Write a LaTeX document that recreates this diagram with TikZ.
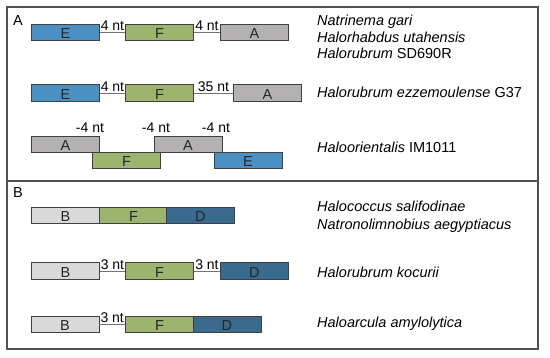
\documentclass[tikz,border=0pt]{standalone}
\usepackage{fontspec}
\setmainfont{Liberation Sans}
\usetikzlibrary{calc}
\definecolor{colE}{HTML}{4A90C2}
\definecolor{colF}{HTML}{9DB46F}
\definecolor{colA}{HTML}{B3B1B1}
\definecolor{colB}{HTML}{D9D9D9}
\definecolor{colD}{HTML}{3A6B8F}
\definecolor{frameGray}{HTML}{505050}
\newcommand{\bigfont}{\fontsize{14.5}{16}\selectfont}
\newcommand{\ntfont}{\fontsize{14}{15}\selectfont}
\tikzset{
  gene/.style={draw=black!75,line width=0.9pt,minimum width=68pt,minimum height=16.3pt,inner sep=0pt,
    anchor=north west,text height=12pt,text depth=0pt,font=\bigfont,text=black!85},
  gap/.style={draw=black!55,line width=0.9pt},
  nt/.style={anchor=south,inner sep=1.5pt,font=\ntfont},
  species/.style={anchor=base west,inner sep=0pt,font=\bigfont},
  frame/.style={draw=frameGray,line width=1.1pt}
}

\begin{document}
\begin{tikzpicture}[x=1pt,y=-1pt]
\useasboundingbox (0,0) rectangle (550,358);
\draw[frame] (7,7) rectangle (538,349);
\draw[frame] (7,181) -- (538,181);
\node[font=\bigfont] (pA) at (18,21) {A};
\node[font=\bigfont] (pB) at (18,193) {B};
% panel A
\node[gene,fill=colE] (e1) at (31,23.7) {E};
\node[gene,fill=colF] (f1) at (125,23.7) {F};
\node[gene,fill=colA] (a1) at (220,23.7) {A};
\draw[gap] (e1) -- node[nt]{4 nt} (f1);
\draw[gap] (f1) -- node[nt]{4 nt} (a1);
\node[gene,fill=colE] (e2) at (31,84.5) {E};
\node[gene,fill=colF] (f2) at (125,84.5) {F};
\node[gene,fill=colA] (a2) at (233,84.5) {A};
\draw[gap] (e2) -- node[nt]{4 nt} (f2);
\draw[gap] (f2) -- node[nt]{35 nt} (a2);
\node[gene,fill=colA] (a3) at (31,136) {A};
\node[gene,fill=colF] (f3) at (92,152.2) {F};
\node[gene,fill=colA] (a4) at (153.5,136) {A};
\node[gene,fill=colE] (e3) at (213.5,152.2) {E};
\foreach \n/\x in {m1/90,m2/156,m3/216}{\node[nt] (\n) at (\x,134.5) {-4 nt};}
% panel B
\node[gene,fill=colB] (b1) at (31,207) {B};
\node[gene,fill=colF] (f4) at (99,207) {F};
\node[gene,fill=colD] (d1) at (166,207) {D};
\node[gene,fill=colB] (b2) at (31,262.5) {B};
\node[gene,fill=colF] (f5) at (125,262.5) {F};
\node[gene,fill=colD] (d2) at (220,262.5) {D};
\draw[gap] (b2) -- node[nt]{3 nt} (f5);
\draw[gap] (f5) -- node[nt]{3 nt} (d2);
\node[gene,fill=colB] (b3) at (30.5,316) {B};
\node[gene,fill=colF] (f6) at (125,316) {F};
\node[gene,fill=colD] (d3) at (192.5,316) {D};
\draw[gap] (b3) -- node[nt]{3 nt} (f6);
% species
\foreach \n/\y/\t in {
  s1/25.7/\textit{Natrinema gari},
  s2/42.2/\textit{Halorhabdus utahensis},
  s3/58.5/\textit{Halorubrum} SD690R,
  s4/97.3/\textit{Halorubrum ezzemoulense} G37,
  s5/152.3/\textit{Haloorientalis} IM1011,
  s6/211.3/\textit{Halococcus salifodinae},
  s7/229.7/\textit{Natronolimnobius aegyptiacus},
  s8/278/\textit{Halorubrum kocurii},
  s9/328/\textit{Haloarcula amylolytica}}{
  \node[species] (\n) at (317,\y) {\t};
}
\end{tikzpicture}
\end{document}
